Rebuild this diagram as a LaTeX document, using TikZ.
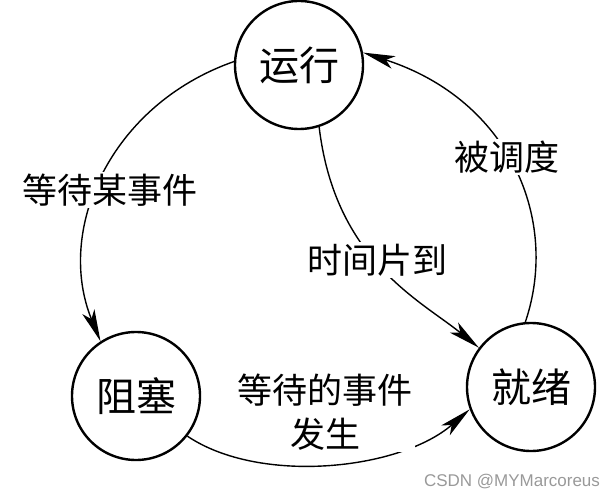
\documentclass[tikz,border=0pt]{standalone}
\usepackage{fontspec}
\setmainfont{Noto Sans CJK SC}
\newfontfamily\wmfont{Liberation Sans}
\usetikzlibrary{arrows.meta}
\tikzset{
    state/.style={draw, circle, line width=2.4pt, minimum size=128pt, inner sep=0pt,
        font=\fontsize{40}{44}\selectfont},
    trans/.style={line width=1.4pt, -{Stealth[length=32pt,width=13pt,inset=8pt]}},
    tlabel/.style={fill=white, inner sep=2pt, align=center,
        font=\fontsize{35}{44}\selectfont}
}
\begin{document}
\begin{tikzpicture}[x=1pt, y=-1pt]
        \useasboundingbox (0,0) rectangle (612,497);
        \begin{scope}[every node/.style={state}]
            \node (yx) at (299, 65) {运行};
            \node (zs) at (136, 396) {阻塞};
            \node (jx) at (531, 387) {就绪};
        \end{scope}
        \draw [trans] (yx.177) .. controls (110, 105) and (55, 230) .. (zs.123);
        \draw [trans] (yx.-72) .. controls (335, 260) and (420, 300) .. (jx.143);
        \draw [trans] (jx.95) .. controls (560, 220) and (510, 100) .. (yx.11);
        \draw [trans] (zs.-38) .. controls (260, 485) and (400, 470) .. (jx.-160);
        \begin{scope}[every node/.style={tlabel}]
            \node (l1) at (110, 190) {等待某事件};
            \node (l2) at (507, 157) {被调度};
            \node (l3) at (377, 260) {时间片到};
            \node (l4) at (325, 412) {等待的事件\\发生};
        \end{scope}
        \node [text=black!40, font=\wmfont\fontsize{17}{20}\selectfont] (wm) at (512, 482) {CSDN @MYMarcoreus};
    \end{tikzpicture}
\end{document}
